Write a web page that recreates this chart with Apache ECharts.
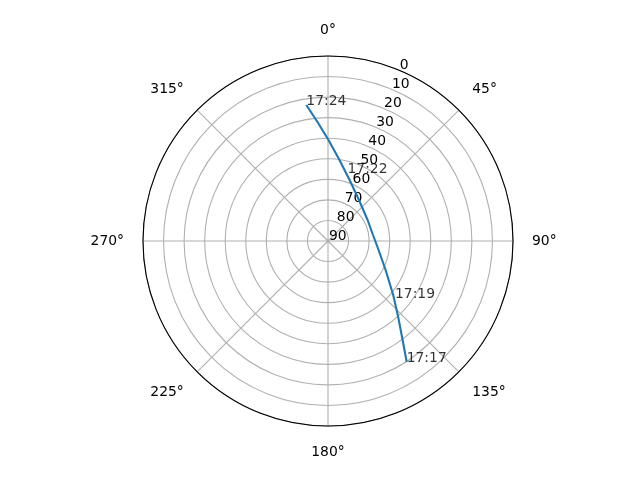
<!DOCTYPE html>
<html><head><meta charset="utf-8">
<script src="https://cdn.jsdelivr.net/npm/echarts@6/dist/echarts.min.js"></script>
<style>html,body{margin:0;padding:0;background:#fff}#c{width:640px;height:480px}</style>
</head><body><div id="c"></div>
<script>
// satellite track (17:17 -> 17:24): azimuth (deg) and elevation (deg)
const trackAz = [146.96, 143.00, 137.28, 129.63, 116.72, 100.09, 82.41, 62.06, 37.09, 19.50, 8.08, 0.28, 354.96, 350.93];
const trackEl = [19.78, 29.69, 39.67, 48.81, 58.63, 65.00, 67.91, 68.19, 65.00, 58.52, 50.20, 40.86, 31.88, 23.00];
const timeLabels = ['17:17', '17:19', '17:22', '17:24'];
const timeAz = [146.96, 130.4, 16.1, 350.93];
const timeEl = [19.78, 47.2, 55.8, 23.00];
const angleTicks = [0, 45, 90, 135, 180, 225, 270, 315];
const radiusTicks = [0, 10, 20, 30, 40, 50, 60, 70, 80, 90];

const FONT = 'DejaVu Sans';
const FS = 13.9;
const chart = echarts.init(document.getElementById('c'));
const cx = 328, cy = 241, R = 185;
chart.setOption({
  animation: false,
  polar: [
    {center: [cx, cy], radius: R},
    {center: [cx + 1, cy - 5], radius: R}
  ],
  angleAxis: [
    {polarIndex: 0, type: 'value', min: 0, max: 360, interval: 45, startAngle: 90, clockwise: true,
     axisLine: {show: true, lineStyle: {color: '#000', width: 1.1}},
     axisTick: {show: false},
     splitLine: {show: true, lineStyle: {color: '#b0b0b0', width: 1.1}},
     axisLabel: {show: true, margin: 19, align: 'center', verticalAlign: 'middle',
       fontFamily: FONT, fontSize: FS, color: '#000',
       formatter: v => angleTicks.includes(v) ? v + '°' : ''}},
    {polarIndex: 1, type: 'value', min: 0, max: 360, startAngle: 67.5, clockwise: true, show: false}
  ],
  radiusAxis: [
    {polarIndex: 0, type: 'value', min: 0, max: 90, interval: 10, inverse: true,
     axisLine: {show: false}, axisTick: {show: false}, axisLabel: {show: false},
     splitLine: {show: true, lineStyle: {color: '#b0b0b0', width: 1.1}}},
    {polarIndex: 1, type: 'value', min: 0, max: 90, interval: 10, inverse: true,
     axisLine: {show: false}, axisTick: {show: false}, splitLine: {show: false},
     axisLabel: {show: true, inside: true, margin: 0, align: 'left', verticalAlign: 'middle',
       fontFamily: FONT, fontSize: FS, color: '#000',
       formatter: v => radiusTicks.includes(v) ? String(v) : ''}}
  ],
  series: [
    {type: 'line', coordinateSystem: 'polar', polarIndex: 0, symbol: 'none',
     lineStyle: {color: '#1f77b4', width: 2.1},
     data: trackAz.map((a, i) => [trackEl[i], a])},
    {type: 'scatter', coordinateSystem: 'polar', polarIndex: 0, symbolSize: 0,
     itemStyle: {color: '#000'}, z: 5,
     label: {show: true, position: [0, 3], align: 'left', verticalAlign: 'bottom',
       fontFamily: FONT, fontSize: FS, color: '#000', textBorderWidth: 0,
       formatter: p => timeLabels[p.dataIndex]},
     data: timeAz.map((a, i) => [timeEl[i], a])}
  ]
});
</script></body></html>
